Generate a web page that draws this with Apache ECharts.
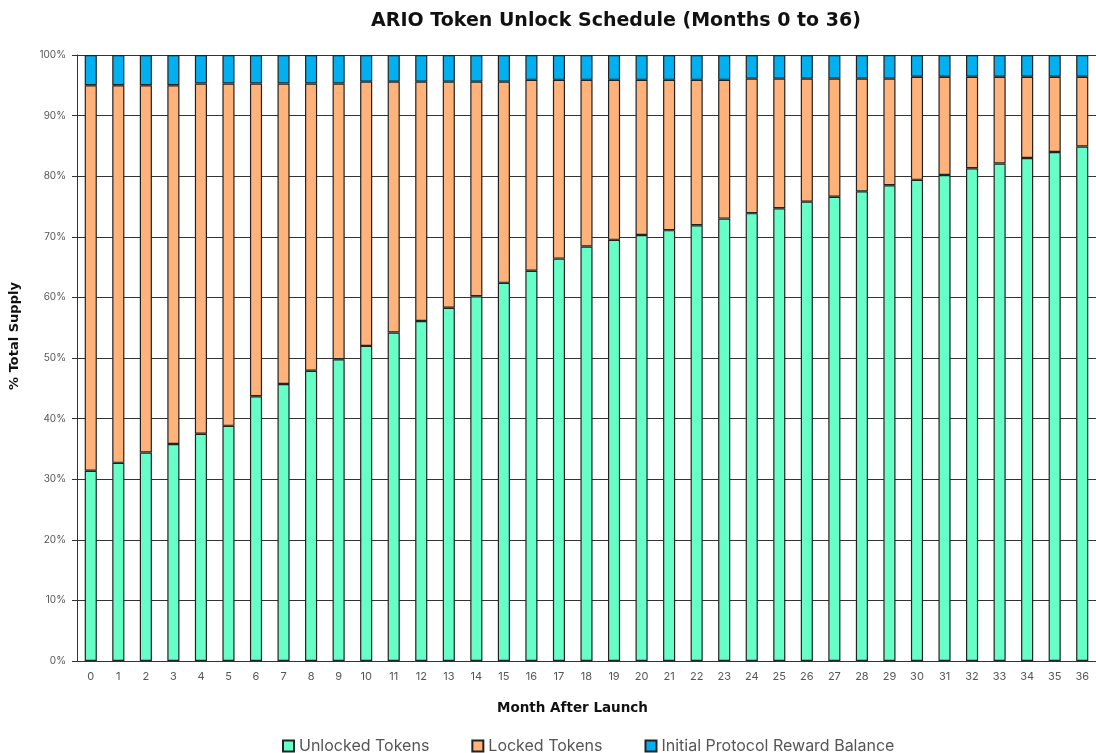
<!DOCTYPE html>
<html><head><meta charset="utf-8">
<script src="https://cdn.jsdelivr.net/npm/echarts@6/dist/echarts.min.js"></script>
<style>html,body{margin:0;padding:0;background:#fff}#c{width:1096px;height:753px}</style>
</head><body><div id="c"></div>
<script>
const months = Array.from({length:37},(_,i)=>String(i));
const unlocked = [31.4,32.7,34.4,35.8,37.5,38.8,43.7,45.7,47.9,49.8,52.0,54.2,56.1,58.3,60.2,62.4,64.4,66.4,68.4,69.5,70.3,71.1,71.9,73.0,73.9,74.7,75.8,76.6,77.5,78.5,79.4,80.2,81.3,82.1,83.0,84.0,84.9];
const reward = [5.0,5.0,5.0,5.0,4.7,4.7,4.7,4.7,4.7,4.7,4.4,4.4,4.4,4.4,4.4,4.4,4.1,4.1,4.1,4.1,4.1,4.1,4.1,4.1,3.9,3.9,3.9,3.9,3.9,3.9,3.6,3.6,3.6,3.6,3.6,3.6,3.6];
const locked = unlocked.map((u,i)=>+(100-u-reward[i]).toFixed(1));
const yTicks = ['0%','10%','20%','30%','40%','50%','60%','70%','80%','90%','100%'];

const chart = echarts.init(document.getElementById('c'));
const font = 'Inter, "Open Sans", sans-serif';
const bold = '"DejaVu Sans", sans-serif';
const barStyle = c => ({color:c, borderColor:'#222', borderWidth:1.2});
chart.setOption({
  animation:false,
  title:{text:'ARIO Token Unlock Schedule (Months 0 to 36)', left:611, top:7, textAlign:'center',
    textStyle:{fontFamily:bold, fontSize:19, fontWeight:'bold', color:'#111'}},
  grid:{left:77, right:-1, top:55, bottom:92},
  legend:{top:733, left:277, itemWidth:11, itemHeight:11, itemGap:42, icon:'rect',
    textStyle:{fontFamily:font, fontSize:16, color:'#555'},
    data:['Unlocked Tokens','Locked Tokens','Initial Protocol Reward Balance']},
  xAxis:{type:'category', data:months, name:'Month After Launch', nameLocation:'middle', nameGap:40,
    nameTextStyle:{fontFamily:bold, fontSize:13.5, fontWeight:'bold', color:'#111', padding:[0,28,0,0]},
    axisTick:{show:false}, axisLine:{lineStyle:{color:'#333'}},
    axisLabel:{fontFamily:font, fontSize:11, color:'#555', margin:10}},
  yAxis:{type:'value', min:0, max:100, interval:10, name:'% Total Supply', nameLocation:'middle', nameGap:56,
    nameTextStyle:{fontFamily:bold, fontSize:13, fontWeight:'bold', color:'#111', padding:[0,0,0,44]},
    axisLine:{show:true, lineStyle:{color:'#333'}}, axisTick:{show:true, length:5, lineStyle:{color:'#333'}},
    splitLine:{lineStyle:{color:'#333', width:1}},
    axisLabel:{fontFamily:font, fontSize:10, color:'#555', margin:11, formatter:v=>yTicks[Math.round(v/10)]}},
  series:[
    {name:'Unlocked Tokens', type:'bar', stack:'s', data:unlocked, barWidth:'44%', itemStyle:barStyle('#66ffc8')},
    {name:'Locked Tokens', type:'bar', stack:'s', data:locked, barWidth:'44%', itemStyle:barStyle('#ffb27a')},
    {name:'Initial Protocol Reward Balance', type:'bar', stack:'s', data:reward, barWidth:'44%', itemStyle:barStyle('#00b0f0')}
  ]
});
</script></body></html>
